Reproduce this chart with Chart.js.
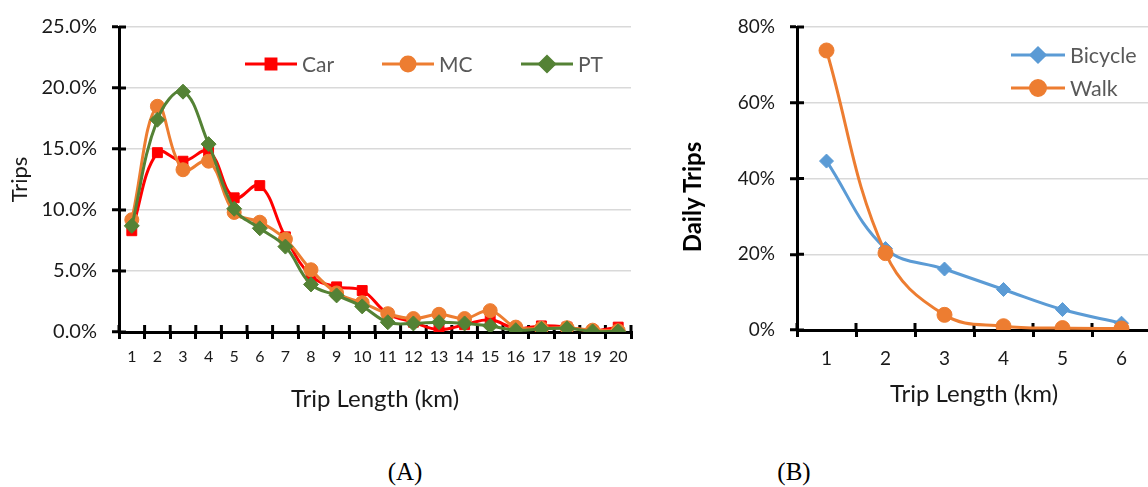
<!DOCTYPE html>
<html><head><meta charset="utf-8">
<script src="https://cdn.jsdelivr.net/npm/chart.js@4"></script>
<style>
html,body{margin:0;padding:0;background:#fff;}
body{width:1148px;height:487px;overflow:hidden;position:relative;font-family:Lato,sans-serif;}
#wrapA{position:absolute;left:0;top:0;width:660px;height:420px;}
#wrapB{position:absolute;left:660px;top:0;width:500px;height:420px;}
.cap{position:absolute;top:458px;width:100px;text-align:center;font-family:"Liberation Serif",serif;font-size:25px;line-height:28px;color:#000;}
#ytB{position:absolute;left:592px;top:183px;width:200px;height:28px;line-height:28px;text-align:center;transform:rotate(-90deg);transform-origin:50% 50%;font-family:Lato,sans-serif;font-weight:bold;font-size:24px;color:#000;white-space:nowrap;}
</style>
</head><body>
<div id="wrapA"><canvas id="cA" width="660" height="420"></canvas></div>
<div id="wrapB"><canvas id="cB" width="500" height="420"></canvas></div>
<div id="ytB">Daily Trips</div>
<div class="cap" style="left:355px">(A)</div>
<div class="cap" style="left:744px">(B)</div>
<script>
// ---- Data (A) ----
const tripKmA = ['1','2','3','4','5','6','7','8','9','10','11','12','13','14','15','16','17','18','19','20'];
const carPct = [8.3,14.7,14.0,14.8,11.0,12.0,7.8,4.6,3.7,3.4,1.5,0.8,0.2,0.6,1.0,0.3,0.5,0.4,0.1,0.4];
const mcPct  = [9.2,18.5,13.3,14.0,9.8,9.0,7.6,5.1,3.2,2.4,1.5,1.1,1.45,1.1,1.75,0.4,0.3,0.35,0.15,0.1];
const ptPct  = [8.7,17.4,19.7,15.4,10.1,8.5,7.0,3.9,3.0,2.1,0.8,0.7,0.8,0.7,0.5,0.15,0.25,0.3,0.05,0.05];
const yTicksA = [0,5,10,15,20,25];
// ---- Data (B) ----
const tripKmB = ['1','2','3','4','5','6'];
const bicyclePct = [44.6,21.5,16.1,10.7,5.4,1.8];
const walkPct    = [73.8,20.3,4.0,1.0,0.5,0.4];
const yTicksB = [0,20,40,60,80];

Chart.defaults.font.family = 'Lato, sans-serif';
Chart.defaults.color = '#1a1a1a';

const crossTicks = {
  id:'crossTicks',
  beforeDatasetsDraw(chart, args, o){
    const ctx = chart.ctx, xs = chart.scales.x, ys = chart.scales.y;
    ctx.save(); ctx.strokeStyle = '#000'; ctx.lineWidth = 3;
    ys.ticks.forEach((t,i)=>{ const py = ys.getPixelForTick(i);
      ctx.beginPath(); ctx.moveTo(ys.right, py); ctx.lineTo(ys.right + o.len, py); ctx.stroke(); });
    const n = xs.ticks.length, step = (xs.right - xs.left)/n;
    for(let i=0;i<=n;i++){ const px = xs.left + i*step;
      ctx.beginPath(); ctx.moveTo(px, xs.top); ctx.lineTo(px, xs.top - o.len); ctx.stroke(); }
    ctx.restore();
  }
};
const lineLegend = {
  id:'lineLegend',
  afterDatasetsDraw(chart, args, o){
    const ctx = chart.ctx;
    chart.data.datasets.forEach((ds,i)=>{
      const p = o.items[i]; if(!p) return;
      ctx.save();
      ctx.strokeStyle = ds.borderColor; ctx.lineWidth = ds.borderWidth;
      ctx.beginPath(); ctx.moveTo(p.x, p.y); ctx.lineTo(p.x + o.len, p.y); ctx.stroke();
      ctx.fillStyle = ds.pointBackgroundColor; ctx.strokeStyle = ds.pointBorderColor;
      Chart.helpers.drawPoint(ctx, {pointStyle: ds.pointStyle, rotation: 0, radius: ds.pointRadius, borderWidth: 1}, p.x + o.len/2, p.y);
      ctx.font = o.font; ctx.fillStyle = '#595959'; ctx.textBaseline = 'middle'; ctx.textAlign = 'left';
      ctx.fillText(ds.label, p.x + o.len + 5, p.y + 1);
      ctx.restore();
    });
  }
};

function series(label, data, color, style, r, order, width){
  return {label, data, borderColor: color, backgroundColor: color, pointBackgroundColor: color,
    pointBorderColor: color, pointStyle: style, pointRadius: r, pointHoverRadius: r, pointBorderWidth: 1,
    borderWidth: width, tension: 0.4, order};
}

new Chart(document.getElementById('cA'), {
  type: 'line',
  data: { labels: tripKmA, datasets: [
    series('Car', carPct, '#FF0000', 'rect', 7, 3, 3),
    series('MC', mcPct, '#ED7D31', 'circle', 7, 2, 3),
    series('PT', ptPct, '#548235', 'rectRot', 7.5, 1, 3)
  ]},
  options: {
    responsive: false, animation: false, devicePixelRatio: 1,
    layout: { padding: {left: 0, top: 27, right: 29, bottom: 0} },
    plugins: { legend: {display: false}, tooltip: {enabled: false},
      lineLegend: { len: 52, font: '21px Lato', items: [{x:245,y:64},{x:382,y:64},{x:521,y:64}] },
      crossTicks: { len: 7 } },
    scales: {
      x: { offset: true, afterFit: s => { s.height = 88; },
        grid: { offset: true, drawOnChartArea: false, color: '#000', lineWidth: 3, tickLength: 7 },
        border: { color: '#000', width: 3 },
        ticks: { font: {size: 16}, padding: 8, maxRotation: 0, autoSkip: false, color: '#1a1a1a' },
        title: { display: true, text: 'Trip Length (km)', font: {size: 24}, color: '#1a1a1a', padding: {top: 0, bottom: 6} } },
      y: { min: 0, max: 25, afterFit: s => { s.width = 119; },
        afterBuildTicks: s => { s.ticks = yTicksA.map(v => ({value: v})); },
        grid: { color: '#D9D9D9', lineWidth: 1.5, tickColor: '#000', tickWidth: 3, tickLength: 7 },
        border: { color: '#000', width: 3 },
        ticks: { font: {size: 20}, padding: 15, color: '#1a1a1a', callback: v => v.toFixed(1) + '%' },
        title: { display: true, text: 'Trips', font: {size: 22}, color: '#1a1a1a', padding: {top: 7, bottom: 0} } }
    }
  },
  plugins: [crossTicks, lineLegend]
});

new Chart(document.getElementById('cB'), {
  type: 'line',
  data: { labels: tripKmB, datasets: [
    series('Bicycle', bicyclePct, '#5B9BD5', 'rectRot', 7, 2, 3),
    series('Walk', walkPct, '#ED7D31', 'circle', 7.5, 1, 3)
  ]},
  options: {
    responsive: false, animation: false, devicePixelRatio: 1,
    layout: { padding: {left: 0, top: 27, right: 9, bottom: 0} },
    plugins: { legend: {display: false}, tooltip: {enabled: false},
      lineLegend: { len: 54, font: '21.5px Lato', items: [{x:351,y:55},{x:351,y:88}] },
      crossTicks: { len: 7 } },
    scales: {
      x: { offset: true, afterFit: s => { s.height = 90; },
        grid: { offset: true, drawOnChartArea: false, color: '#000', lineWidth: 3, tickLength: 7 },
        border: { color: '#000', width: 3 },
        ticks: { font: {size: 19}, padding: 10, maxRotation: 0, autoSkip: false, color: '#1a1a1a' },
        title: { display: true, text: 'Trip Length (km)', font: {size: 24}, color: '#1a1a1a', padding: {top: 0, bottom: 11} } },
      y: { min: 0, max: 80, afterFit: s => { s.width = 137; },
        afterBuildTicks: s => { s.ticks = yTicksB.map(v => ({value: v})); },
        grid: { color: '#D9D9D9', lineWidth: 1.5, tickColor: '#000', tickWidth: 3, tickLength: 7 },
        border: { color: '#000', width: 3 },
        ticks: { font: {size: 19}, padding: 15, color: '#1a1a1a', callback: v => v + '%' } }
    }
  },
  plugins: [crossTicks, lineLegend]
});
</script>
</body></html>
